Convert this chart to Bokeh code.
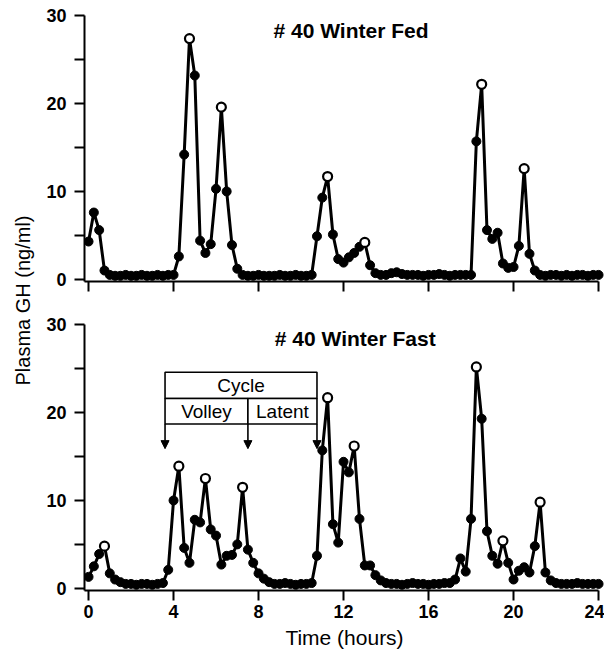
import math
import numpy as np
from bokeh.plotting import figure
from bokeh.layouts import row, column
from bokeh.models import Range1d, FixedTicker, Label, Arrow, NormalHead
from bokeh.embed import file_html
from bokeh.resources import INLINE

# ---------------- data ----------------
# 15-minute sampling over 24 h
hours = np.arange(0, 24.01, 0.25)

fed_gh = [
    4.3, 7.6, 5.6, 1.0,
    0.5, 0.4, 0.4, 0.5, 0.4, 0.4, 0.5, 0.4, 0.4, 0.5, 0.4, 0.5,
    0.5, 2.6, 14.2, 27.4, 23.2, 4.4, 3.0, 4.0, 10.3, 19.6, 10.0, 3.9, 1.2,
    0.5, 0.4, 0.4, 0.5, 0.4, 0.4, 0.4, 0.5, 0.4, 0.4, 0.5, 0.4, 0.4, 0.5,
    4.9, 9.3, 11.7, 5.1, 2.3, 1.9, 2.5, 3.0, 3.7, 4.2, 1.6, 0.7,
    0.5, 0.5, 0.7, 0.8, 0.6, 0.5, 0.5, 0.5, 0.4, 0.5, 0.5, 0.6, 0.5, 0.4, 0.5, 0.5, 0.5,
    0.5, 15.7, 22.2, 5.6, 4.6, 5.3, 1.8, 1.3, 1.4, 3.8, 12.6, 2.9, 1.0,
    0.5, 0.4, 0.5, 0.5, 0.4, 0.5, 0.4, 0.5, 0.5, 0.4, 0.5, 0.5,
]
fed_peak_hours = [4.75, 6.25, 11.25, 13.0, 18.5, 20.5]

fast_gh = [
    1.3, 2.5, 3.9, 4.8, 1.7, 1.0, 0.7, 0.5,
    0.5, 0.4, 0.5, 0.5, 0.4, 0.5, 0.6,
    2.1, 10.0, 13.9, 4.6, 2.9, 7.8, 7.5, 12.5, 6.7, 6.0, 2.7, 3.7, 3.8, 5.0, 11.5, 4.4, 2.9, 1.7, 1.1, 0.7,
    0.5, 0.5, 0.6, 0.5, 0.4, 0.5, 0.5, 0.6,
    3.7, 15.7, 21.7, 7.3, 5.2, 14.4, 13.2, 16.2, 7.9, 2.6, 2.6, 1.5, 0.9, 0.6,
    0.5, 0.5, 0.4, 0.5, 0.6, 0.5, 0.5, 0.4, 0.5, 0.5, 0.6, 0.6,
    1.0, 3.4, 1.9, 7.9, 25.2, 19.3, 6.5, 3.7, 2.8, 5.4, 2.9, 1.0, 2.0, 2.4, 1.8, 4.8, 9.8, 1.8, 0.9,
    0.6, 0.5, 0.5, 0.5, 0.6, 0.5, 0.5, 0.5, 0.5,
]
fast_peak_hours = [0.75, 4.25, 5.5, 7.25, 11.25, 12.5, 18.25, 19.5, 21.25]

x_tick_values = [0, 4, 8, 12, 16, 20, 24]
y_label_ticks = [0, 10, 20, 30]
y_unlabelled_ticks = [5, 15, 25]

# cycle annotation (hours / ng/ml)
cycle_edges = [3.6, 7.5, 10.75]
cycle_rows = [18.7, 21.6, 24.6]
arrow_tip = 15.9

FONT = "Liberation Sans"
X0, X1 = -0.19, 24.28
Y0, Y1 = -0.25, 30.6


def style_ticks(ax):
    ax.axis_line_width = 2
    ax.axis_line_color = "black"
    for pre in ("major", "minor"):
        setattr(ax, pre + "_tick_line_width", 2)
        setattr(ax, pre + "_tick_line_color", "black")
        setattr(ax, pre + "_tick_out", 10)
        setattr(ax, pre + "_tick_in", 0)


def make_panel(gh, peaks, title, title_x, title_y, bottom, mb_top, mb_bottom):
    p = figure(frame_width=520, frame_height=271,
               x_range=Range1d(X0, X1), y_range=Range1d(Y0, Y1),
               output_backend="svg", toolbar_location=None,
               min_border_left=48, min_border_right=0,
               min_border_top=mb_top, min_border_bottom=mb_bottom)
    p.grid.visible = False
    p.outline_line_color = None
    p.background_fill_color = "white"
    p.border_fill_color = "white"

    # y axis: labelled ticks every 10, plain ticks at 5, 15, 25
    ya = p.yaxis[0]
    ya.bounds = (Y0, 30)
    ya.ticker = FixedTicker(ticks=y_label_ticks, minor_ticks=y_unlabelled_ticks)
    style_ticks(ya)
    ya.major_label_standoff = 8
    ya.major_label_text_font = FONT
    ya.major_label_text_font_size = "18px"
    ya.major_label_text_font_style = "bold"
    ya.major_label_text_color = "black"

    # x axis
    xa = p.xaxis[0]
    xa.bounds = (X0, 24)
    style_ticks(xa)
    xa.major_label_text_font = FONT
    xa.major_label_text_color = "black"
    if bottom:
        xa.ticker = FixedTicker(ticks=x_tick_values, minor_ticks=[])
        xa.major_label_text_font_size = "18px"
        xa.major_label_text_font_style = "bold"
        xa.major_label_standoff = 4
        xa.axis_label = "Time (hours)"
        xa.axis_label_text_font = FONT
        xa.axis_label_text_font_size = "21px"
        xa.axis_label_text_font_style = "normal"
        xa.axis_label_text_color = "black"
        xa.axis_label_standoff = 5
    else:
        # tick marks only, no labels on the upper panel
        xa.ticker = FixedTicker(ticks=[], minor_ticks=x_tick_values)
        xa.major_label_standoff = 0

    h = np.asarray(hours)
    g = np.asarray(gh)
    is_peak = np.isin(h, peaks)
    p.line(h, g, line_color="black", line_width=3)
    p.scatter(h[~is_peak], g[~is_peak], marker="circle", size=9,
              fill_color="black", line_color="black")
    p.scatter(h[is_peak], g[is_peak], marker="circle", size=9,
              fill_color="white", line_color="black", line_width=2.2)

    p.add_layout(Label(x=title_x, y=title_y, text=title, text_align="center",
                       text_baseline="alphabetic", text_font=FONT,
                       text_font_size="21px", text_font_style="bold",
                       text_color="black"))
    return p


p1 = make_panel(fed_gh, fed_peak_hours, "# 40 Winter Fed", 12.35, 28.3, False, 10, 20)
p2 = make_panel(fast_gh, fast_peak_hours, "# 40 Winter Fast", 12.55, 28.4, True, 18, 63)

# cycle box on the fast panel
l, m, r = cycle_edges
b, mid, t = cycle_rows
p2.quad(left=[l, l, m], right=[r, m, r], bottom=[mid, b, b], top=[t, mid, mid],
        fill_color="white", line_color="black", line_width=1.6)
for xe in cycle_edges:
    p2.add_layout(Arrow(end=NormalHead(size=8, fill_color="black", line_color="black", line_width=1),
                        x_start=xe, y_start=b, x_end=xe, y_end=arrow_tip,
                        line_width=1.6, line_color="black"))
for txt, xc, yc in [("Cycle", (l + r) / 2, (mid + t) / 2),
                    ("Volley", (l + m) / 2, (b + mid) / 2),
                    ("Latent", (m + r) / 2, (b + mid) / 2)]:
    p2.add_layout(Label(x=xc, y=yc, text=txt, text_align="center", text_baseline="middle",
                        text_font=FONT, text_font_size="19px", text_color="black"))

# shared y-axis title
TOTAL_H = 653
lab = figure(width=36, height=TOTAL_H, x_range=Range1d(0, 36), y_range=Range1d(0, TOTAL_H),
             output_backend="svg", toolbar_location=None, min_border=0,
             x_axis_location=None, y_axis_location=None)
lab.grid.visible = False
lab.outline_line_color = None
lab.add_layout(Label(x=22, y=TOTAL_H - 300, text="Plasma GH (ng/ml)", angle=math.pi / 2,
                     text_align="center", text_baseline="middle", text_font=FONT,
                     text_font_size="20px", text_color="black"))

layout = row(lab, column(p1, p2))
open("out.html", "w").write(file_html(layout, INLINE))
